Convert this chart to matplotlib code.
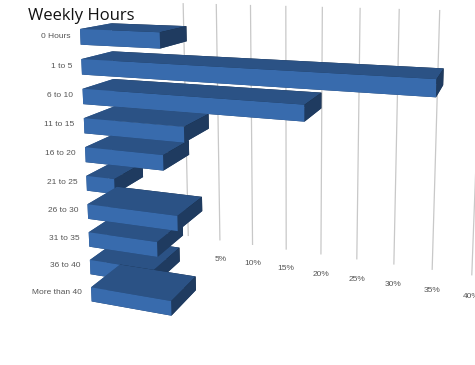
import matplotlib
matplotlib.use("Agg")
import matplotlib.pyplot as plt
from matplotlib.colors import LightSource
from mpl_toolkits.mplot3d import proj3d

cats = ["0 Hours", "1 to 5", "6 to 10", "11 to 15", "16 to 20", "21 to 25",
        "26 to 30", "31 to 35", "36 to 40", "More than 40"]
vals = [9.5, 37.5, 25, 12, 9.5, 3.5, 11, 8.5, 8, 10]
ticks = [5, 10, 15, 20, 25, 30, 35, 40]

BAR = "#3a6fb3"
GRID = "#c8c8c8"
DEPTH = 24.0      # back wall (y)
BAR_D = 6.0       # bar depth
BAR_H = 0.52      # bar thickness (category spacing = 1)
ZTOP = 18.0       # empty room above, so the eye sits near the top bars
W, H = 475, 365

fig = plt.figure(figsize=(W / 100, H / 100), dpi=100)
ax = fig.add_axes([-0.128, -0.368, 1.38, 2.415], projection="3d")
ax.set_xlim(0, 40)
ax.set_ylim(0, DEPTH)
ax.set_zlim(-0.6, ZTOP)
ax.set_box_aspect((40, DEPTH, 34 * (ZTOP + 0.6) / 10.5))
ax.view_init(elev=8, azim=-72)
ax.set_proj_type("persp", focal_length=0.2)
ax.set_axis_off()

def to2d(x, y, z):
    px, py, _ = proj3d.proj_transform(x, y, z, ax.get_proj())
    return px, py

n = len(cats)
ls = LightSource(azdeg=200, altdeg=15)
for i, (c, v) in enumerate(zip(cats, vals)):
    z = (n - 1 - i) * 1.0
    ax.bar3d(0, 0, z, v, BAR_D, BAR_H, color=BAR, shade=True, lightsource=ls)

for t in [0] + ticks:
    ax.plot([t, t], [DEPTH, DEPTH], [-0.6, 9.8], color=GRID, lw=0.9)

# put the box where the reference has it: top-left of the first bar and
# bottom-left of the last one
fig.canvas.draw()
a = ax.transData.transform(to2d(0, 0, n - 1 + BAR_H))
b = ax.transData.transform(to2d(0, 0, 0))
a_t = (80, H - 29)
b_t = (110, H - 300)
s = ((a_t[0] - b_t[0]) ** 2 + (a_t[1] - b_t[1]) ** 2) ** 0.5 / \
    ((a[0] - b[0]) ** 2 + (a[1] - b[1]) ** 2) ** 0.5
pos = ax.get_position(original=True)
L, B, PW, PH = pos.x0 * W, pos.y0 * H, pos.width * W, pos.height * H
u, v_ = (a[0] - L) / PW, (a[1] - B) / PH
PW, PH = PW * s, PH * s
L, B = a_t[0] - u * PW, a_t[1] - v_ * PH
ax.set_position([L / W, B / H, PW / W, PH / H])

for i, c in enumerate(cats):
    z = (n - 1 - i) * 1.0
    px, py = to2d(-1.2, 0, z + BAR_H / 2)
    ax.text2D(px, py, c, transform=ax.transData, ha="right", va="center",
              fontsize=6, color="#555555", family="Liberation Sans")
for t in ticks:
    px, py = to2d(t, DEPTH, -1.5)
    ax.text2D(px, py, f"{t}%", transform=ax.transData, ha="center",
              va="center", fontsize=6, color="#555555",
              family="Liberation Sans")

fig.text(0.058, 0.955, "Weekly Hours", fontsize=12, family="Open Sans",
         color="#111111", va="center")
fig.savefig("out.png", dpi=100)
